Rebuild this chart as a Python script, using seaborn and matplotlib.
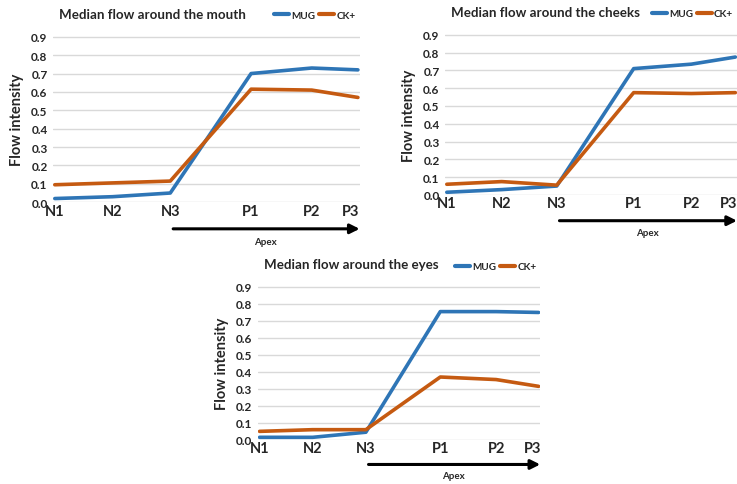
import numpy as np
import pandas as pd
import matplotlib
matplotlib.use('Agg')
import matplotlib.pyplot as plt
import seaborn as sns

# Frames and their (uneven) positions on the time axis
stages = ['N1', 'N2', 'N3', 'P1', 'P2', 'P3']
stage_pos = [0, 1, 2, 3.4, 4.45, 5.25]

# Median flow values per region
mouth_mug = [0.02, 0.03, 0.05, 0.70, 0.73, 0.72]
mouth_ck = [0.095, 0.105, 0.115, 0.615, 0.61, 0.57]
cheeks_mug = [0.015, 0.03, 0.05, 0.71, 0.735, 0.775]
cheeks_ck = [0.06, 0.075, 0.055, 0.575, 0.57, 0.575]
eyes_mug = [0.015, 0.015, 0.045, 0.755, 0.755, 0.75]
eyes_ck = [0.05, 0.06, 0.06, 0.37, 0.355, 0.315]

yticks = [0.0, 0.1, 0.2, 0.3, 0.4, 0.5, 0.6, 0.7, 0.8, 0.9]

sns.set_style('white')
plt.rcParams['font.family'] = ['Lato', 'DejaVu Sans']
plt.rcParams['font.weight'] = 'bold'

palette = {'MUG': '#2e75b6', 'CK+': '#c55a11'}

fig = plt.figure(figsize=(7.37, 4.85), dpi=100)

panels = [
    ('Median flow around the mouth', mouth_mug, mouth_ck, [0.072, 0.581, 0.416, 0.343]),
    ('Median flow around the cheeks', cheeks_mug, cheeks_ck, [0.604, 0.596, 0.396, 0.332]),
    ('Median flow around the eyes', eyes_mug, eyes_ck, [0.350, 0.091, 0.383, 0.317]),
]

for title, mug, ck, rect in panels:
    ax = fig.add_axes(rect)
    df = pd.DataFrame({
        'pos': stage_pos * 2,
        'value': mug + ck,
        'set': ['MUG'] * 6 + ['CK+'] * 6,
    })
    sns.lineplot(data=df, x='pos', y='value', hue='set', palette=palette,
                 linewidth=2.6, ax=ax, legend=True)
    ax.set_xlim(-0.03, 5.28)
    ax.set_ylim(0, 0.905)
    ax.set_yticks(yticks)
    ax.set_yticklabels([f'{t:.1f}' for t in yticks], fontsize=8.5, fontweight='bold')
    tick_pos = stage_pos[:-1] + [stage_pos[-1] - 0.12]
    ax.set_xticks(tick_pos)
    ax.set_xticklabels(stages, fontsize=10.5, fontweight='bold')
    ax.tick_params(axis='both', length=0, pad=4)
    ax.tick_params(axis='x', pad=1)
    ax.grid(axis='y', color='#d9d9d9', linewidth=1)
    ax.set_axisbelow(True)
    for s in ax.spines.values():
        s.set_visible(False)
    ax.set_xlabel('')
    ax.set_ylabel('Flow intensity', fontsize=10.5, fontweight='bold', labelpad=5)
    ax.set_title(title, fontsize=9.6, fontweight='bold', loc='left', x=0.02, pad=13)
    leg = ax.legend(loc='lower right', bbox_to_anchor=(0.99, 1.09), ncol=2, frameon=False,
                    prop={'size': 7.2, 'weight': 'bold'}, handlelength=1.5,
                    handletextpad=0.2, columnspacing=0.4, borderaxespad=0,
                    borderpad=0.1)
    for line in leg.get_lines():
        line.set_linewidth(3)
    # Apex arrow below the axis
    trans = ax.get_xaxis_transform()
    ax.annotate('', xy=(5.28, -0.16), xytext=(2.05, -0.16), xycoords=trans,
                textcoords=trans, annotation_clip=False,
                arrowprops=dict(arrowstyle='-|>', lw=2.2, color='black',
                                mutation_scale=14, shrinkA=0, shrinkB=0))
    ax.text(3.65, -0.235, 'Apex', transform=trans, fontsize=7, fontweight='bold',
            ha='center', va='center')

fig.savefig('out.png', dpi=100)
